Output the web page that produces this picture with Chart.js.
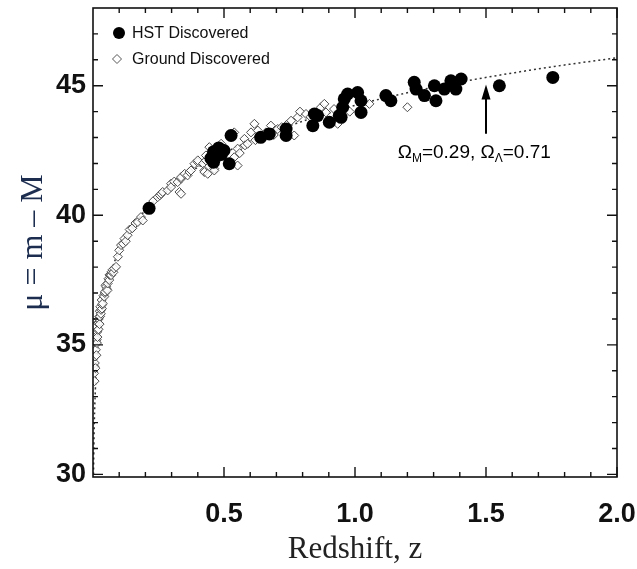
<!DOCTYPE html>
<html>
<head>
<meta charset="utf-8">
<script src="https://cdn.jsdelivr.net/npm/chart.js@4.4.1/dist/chart.umd.min.js"></script>
<style>
html,body{margin:0;padding:0;background:#fff;}
#wrap{width:637px;height:569px;}
</style>
</head>
<body>
<div id="wrap"><canvas id="c" width="637" height="569"></canvas></div>
<script>
// ---------- data ----------
const hstZ = [0.214,0.45,0.46,0.47,0.48,0.49,0.46,0.50,0.52,0.527,0.64,0.673,0.737,0.737,0.839,0.845,0.857,0.902,0.94,0.947,0.953,0.959,0.972,1.01,1.023,1.023,1.118,1.137,1.226,1.233,1.265,1.303,1.309,1.341,1.366,1.385,1.405,1.551,1.755];
const hstMu = [40.27,42.2,42.45,42.3,42.6,42.35,42.05,42.5,41.99,43.08,43.01,43.14,43.33,43.08,43.46,43.91,43.85,43.59,43.85,43.78,44.17,44.49,44.68,44.74,44.42,43.97,44.62,44.42,45.13,44.87,44.62,45.0,44.42,44.87,45.19,44.87,45.26,45.0,45.32];

const groundZ = [0.004,0.005,0.006,0.007,0.008,0.009,0.010,0.011,0.012,0.013,0.014,0.015,0.016,0.017,0.018,0.019,0.020,0.021,0.022,0.024,0.025,0.026,0.027,0.028,0.030,0.031,0.033,0.034,0.035,0.037,0.040,0.043,0.045,0.046,0.048,0.050,0.053,0.055,0.056,0.059,0.062,0.063,0.066,0.069,0.071,0.075,0.078,0.081,0.088,0.095,0.100,0.107,0.115,0.120,0.125,0.132,0.140,0.150,0.162,0.171,0.183,0.190,0.210,0.230,
0.247,0.255,0.260,0.266,0.285,0.298,0.298,0.310,0.323,0.330,0.336,0.336,0.336,0.350,0.361,0.368,0.374,0.387,0.400,0.400,0.420,0.425,0.425,0.431,0.431,0.438,0.444,0.450,0.463,0.463,0.470,0.476,0.489,0.500,0.539,0.539,0.552,0.552,0.560,0.578,0.580,0.590,0.603,0.616,0.620,0.629,0.660,0.679,0.690,0.705,0.720,0.740,0.756,0.768,0.781,0.790,0.813,0.830,0.870,0.883,0.889,0.920,0.934,0.980,1.055,1.200];
const groundMu = [33.9,34.17,33.6,34.3,34.55,34.1,35.32,34.81,35.1,34.6,35.2,35.07,35.5,35.3,35.58,35.85,35.83,35.6,36.0,36.09,35.8,36.3,36.1,36.47,36.2,36.35,36.73,36.4,36.55,36.6,36.9,36.86,37.0,37.05,37.3,37.24,37.15,37.1,37.37,37.55,37.5,37.7,37.7,37.69,37.82,37.9,37.8,37.95,38.01,38.4,38.65,38.85,38.9,39.1,39.0,39.23,39.45,39.5,39.7,39.74,39.93,39.8,40.3,40.55,
40.7,40.77,40.83,40.9,40.96,41.22,41.09,41.3,41.28,40.9,41.41,41.47,40.83,41.6,41.54,41.67,41.73,41.99,42.05,42.12,42.0,41.73,41.67,42.12,42.31,41.6,42.63,42.24,41.8,41.73,42.1,42.31,42.76,42.55,42.24,43.2,41.92,42.57,42.4,42.95,42.7,42.76,43.2,43.53,42.9,43.27,43.2,43.46,43.1,43.33,43.4,43.5,43.65,43.08,43.78,44.0,43.91,43.8,44.17,44.3,43.97,44.1,43.53,44.0,44.3,44.17];

// model curve (Omega_M=0.29, Omega_L=0.71)
const modelZ  = [0.002,0.004,0.006,0.008,0.01,0.015,0.02,0.03,0.04,0.05,0.07,0.1,0.15,0.2,0.25,0.3,0.4,0.5,0.6,0.7,0.8,0.9,1.0,1.2,1.4,1.6,1.8,2.0];
const modelMu = [30.0,31.5,32.4,33.0,33.5,34.4,35.05,35.95,36.6,37.1,37.85,38.65,39.55,40.2,40.7,41.15,41.85,42.4,42.87,43.27,43.63,43.95,44.24,44.73,45.14,45.49,45.8,46.08];

const xTickValues = [0.5,1.0,1.5,2.0];
const xMinorValues = [0.1,0.2,0.3,0.4,0.6,0.7,0.8,0.9,1.1,1.2,1.3,1.4,1.6,1.7,1.8,1.9];
const yTickValues = [30,35,40,45];
const yMinorValues = [31,32,33,34,36,37,38,39,41,42,43,44,46,47];

const seriesNames = ['HST Discovered','Ground Discovered'];
const annotationText = ['\u03A9','M','=0.29, ','\u03A9','\u039B','=0.71'];

// ---------- helpers ----------
const toPts = (xs, ys) => xs.map((v,i)=>({x:v, y:ys[i]}));

const frame = {
  id:'frame',
  afterDraw(chart){
    const {ctx, chartArea:a, scales:{x,y}} = chart;
    ctx.save();
    ctx.strokeStyle = '#111';
    ctx.lineWidth = 1.6;
    ctx.strokeRect(a.left, a.top, a.right-a.left, a.bottom-a.top);
    ctx.lineWidth = 1.4;
    ctx.beginPath();
    const xt = (v,L)=>{const p=x.getPixelForValue(v);ctx.moveTo(p,a.bottom);ctx.lineTo(p,a.bottom-L);ctx.moveTo(p,a.top);ctx.lineTo(p,a.top+L);};
    const yt = (v,L)=>{const p=y.getPixelForValue(v);ctx.moveTo(a.left,p);ctx.lineTo(a.left+L,p);ctx.moveTo(a.right,p);ctx.lineTo(a.right-L,p);};
    xTickValues.forEach(v=>xt(v,10));
    xMinorValues.forEach(v=>xt(v,5));
    yTickValues.forEach(v=>yt(v,10));
    yMinorValues.forEach(v=>yt(v,5));
    ctx.stroke();
    ctx.restore();
  }
};

const legendPlugin = {
  id:'legendBox',
  afterDraw(chart){
    const {ctx, chartArea:a} = chart;
    ctx.save();
    const x0 = a.left + 26, y0 = a.top + 25, y1 = a.top + 51;
    ctx.fillStyle = '#000';
    ctx.beginPath(); ctx.arc(x0, y0, 6, 0, Math.PI*2); ctx.fill();
    ctx.strokeStyle = '#555'; ctx.lineWidth = 1; ctx.fillStyle='#fff';
    ctx.beginPath(); ctx.moveTo(x0-2,y1-4.5); ctx.lineTo(x0+2.5,y1); ctx.lineTo(x0-2,y1+4.5); ctx.lineTo(x0-6.5,y1); ctx.closePath(); ctx.fill(); ctx.stroke();
    ctx.fillStyle = '#111';
    ctx.font = '16px "Liberation Sans", Arial, sans-serif';
    ctx.textBaseline = 'middle';
    ctx.textAlign = 'left';
    ctx.fillText(seriesNames[0], x0+13, y0+1);
    ctx.fillText(seriesNames[1], x0+13, y1+1);
    ctx.restore();
  }
};

const annot = {
  id:'annot',
  afterDatasetsDraw(chart){
    const {ctx, scales:{x,y}} = chart;
    ctx.save();
    const xp = x.getPixelForValue(1.5);
    const tip = y.getPixelForValue(45.05);
    const base = y.getPixelForValue(43.15);
    ctx.strokeStyle = '#000'; ctx.fillStyle = '#000'; ctx.lineWidth = 2;
    ctx.beginPath(); ctx.moveTo(xp, base); ctx.lineTo(xp, tip+10); ctx.stroke();
    ctx.beginPath(); ctx.moveTo(xp, tip); ctx.lineTo(xp-4.5, tip+15); ctx.lineTo(xp+4.5, tip+15); ctx.closePath(); ctx.fill();
    let tx = x.getPixelForValue(1.163);
    const ty = y.getPixelForValue(42.2);
    const big = '19px "Liberation Sans", Arial, sans-serif';
    const small = '12px "Liberation Sans", Arial, sans-serif';
    ctx.textBaseline = 'alphabetic'; ctx.textAlign = 'left';
    annotationText.forEach((t,i)=>{
      const sub = (i===1 || i===4);
      ctx.font = sub ? small : big;
      ctx.fillText(t, tx, sub ? ty+4 : ty);
      tx += ctx.measureText(t).width;
    });
    ctx.restore();
  }
};

new Chart(document.getElementById('c'), {
  type:'scatter',
  data:{datasets:[
    {label:seriesNames[0], data:toPts(hstZ,hstMu), pointStyle:'circle', pointRadius:6.5, pointHoverRadius:6.5, backgroundColor:'#000', borderColor:'#000', borderWidth:0, order:0},
    {label:seriesNames[1], data:toPts(groundZ,groundMu), pointStyle:'rectRot', pointRadius:4.5, pointHoverRadius:4.5, backgroundColor:'rgba(255,255,255,0.85)', borderColor:'#4a4a4a', borderWidth:1, order:1},
    {type:'line', label:'model', data:toPts(modelZ,modelMu), showLine:true, pointRadius:0, borderColor:'#333', borderWidth:1.5, borderDash:[2,3], cubicInterpolationMode:'monotone', fill:false, order:2}
  ]},
  options:{
    responsive:false, animation:false, devicePixelRatio:1,
    layout:{padding:{left:0,right:20,top:8,bottom:0}},
    plugins:{legend:{display:false}, tooltip:{enabled:false}},
    scales:{
      x:{type:'linear', position:'bottom', min:0, max:2,
        grid:{display:false, drawTicks:false}, border:{display:false},
        ticks:{font:{family:'"Liberation Sans", Arial, sans-serif', weight:'bold', size:27}, color:'#111', padding:21, maxRotation:0, autoSkip:false, callback:(v)=>Number(v).toFixed(1)},
        afterBuildTicks:(s)=>{s.ticks = xTickValues.map(v=>({value:v}));},
        afterFit:(s)=>{s.height = 92; s.paddingLeft = 0; s.paddingRight = 0;},
        title:{display:true, text:'Redshift, z', font:{family:'"Liberation Serif", "Times New Roman", serif', size:31}, color:'#222', padding:{top:0,bottom:1}}
      },
      y:{type:'linear', position:'left', min:29.9, max:48,
        grid:{display:false, drawTicks:false}, border:{display:false},
        ticks:{font:{family:'"Liberation Sans", Arial, sans-serif', weight:'bold', size:27}, color:'#111', padding:7, autoSkip:false, callback:(v)=>String(v)},
        afterBuildTicks:(s)=>{s.ticks = yTickValues.map(v=>({value:v}));},
        afterFit:(s)=>{s.width = 93; s.paddingTop = 0; s.paddingBottom = 0;},
        title:{display:true, text:'\u03BC = m \u2013 M', font:{family:'"Liberation Serif", "Times New Roman", serif', size:32}, color:'#1c2d4f', padding:{top:14,bottom:0}}
      }
    }
  },
  plugins:[frame, legendPlugin, annot]
});
</script>
</body>
</html>
